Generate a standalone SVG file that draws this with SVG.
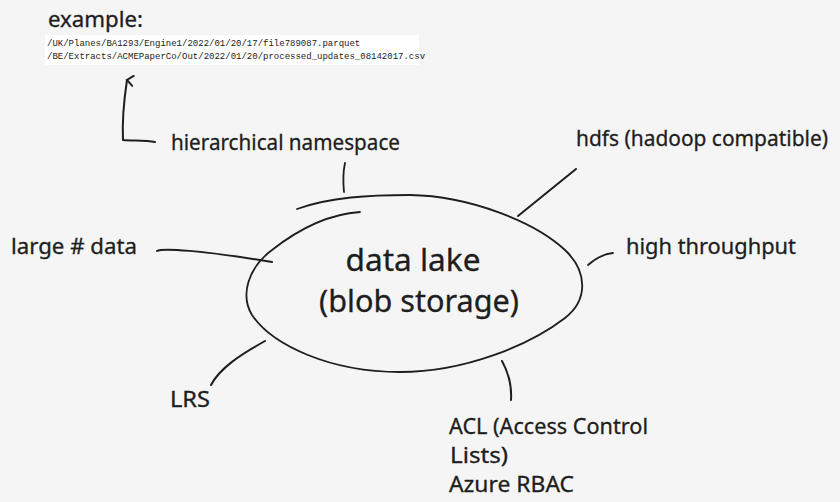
<svg xmlns="http://www.w3.org/2000/svg" width="840" height="502" viewBox="0 0 840 502">
<defs>
<style>
.bg{fill:#f5f5f5}
.t{font-family:"Noto Sans","Liberation Sans",sans-serif;font-size:21px;fill:#1e1e1e;stroke:#1e1e1e;stroke-width:0.3}
.big{font-size:30px}
.mono{font-family:"Liberation Mono","DejaVu Sans Mono",monospace;font-size:9px;fill:#222}
.ln{fill:none;stroke:#1e1e1e;stroke-width:2;stroke-linecap:round;stroke-linejoin:round}
.thin{stroke-width:1.8}
</style>
<marker id="ah" viewBox="0 0 12 12" refX="6" refY="2" markerWidth="12" markerHeight="12" markerUnits="userSpaceOnUse" orient="auto">
<path d="M1 8 L6 2 L11 8" fill="none" stroke="#1e1e1e" stroke-width="2" stroke-linecap="round"/>
</marker>
</defs>
<rect class="bg" x="0" y="0" width="840" height="502"/>

<g id="example">
<text class="t" x="48" y="27" font-size="24" textLength="95" lengthAdjust="spacingAndGlyphs">example:</text>
<rect x="45" y="35" width="374" height="30" fill="#ffffff"/>
<text class="mono" x="47" y="46">/UK/Planes/BA1293/Engine1/2022/01/20/17/file789087.parquet</text>
<text class="mono" x="47" y="59">/BE/Extracts/ACMEPaperCo/Out/2022/01/20/processed_updates_08142017.csv</text>
</g>

<g id="data-lake">
<path class="ln thin" d="M297 209 C330 197 370 195 410 195 C470 196 535 222 565 250 C588 272 588 300 565 318 C530 345 465 372 400 372 C330 372 272 345 252 315 C240 295 248 268 272 250 C300 228 330 214 360 212"/>
<text class="t big" x="413" y="271" text-anchor="middle" textLength="135" lengthAdjust="spacingAndGlyphs">data lake</text>
<text class="t big" x="419" y="312" text-anchor="middle" textLength="200" lengthAdjust="spacingAndGlyphs">(blob storage)</text>
</g>

<g id="hierarchical-namespace">
<text class="t" x="171" y="150" textLength="229" lengthAdjust="spacingAndGlyphs">hierarchical namespace</text>
</g>
<g id="hdfs">
<text class="t" x="576" y="146" textLength="252" lengthAdjust="spacingAndGlyphs">hdfs (hadoop compatible)</text>
</g>
<g id="high-throughput">
<text class="t" x="626" y="254" textLength="170" lengthAdjust="spacingAndGlyphs">high throughput</text>
</g>
<g id="large-data">
<text class="t" x="11" y="254" textLength="126" lengthAdjust="spacingAndGlyphs">large # data</text>
</g>
<g id="lrs">
<text class="t" x="170" y="407" textLength="40" lengthAdjust="spacingAndGlyphs">LRS</text>
</g>
<g id="acl">
<text class="t" x="449" y="434" textLength="199" lengthAdjust="spacingAndGlyphs">ACL (Access Control</text>
<text class="t" x="450" y="463" textLength="58" lengthAdjust="spacingAndGlyphs">Lists)</text>
<text class="t" x="449" y="492" textLength="125" lengthAdjust="spacingAndGlyphs">Azure RBAC</text>
</g>

<g id="connectors">
<path class="ln" d="M155 142 C145 140 132 141 123 140 C122 120 124 100 127 80" marker-end="url(#ah)"/>
<path class="ln thin" d="M345 163 C343 172 343 182 344 192"/>
<path class="ln" d="M518 216 C538 200 556 185 576 169"/>
<path class="ln thin" d="M588 265 C596 258 604 254 613 253"/>
<path class="ln" d="M157 251 C162 248 200 250 272 262"/>
<path class="ln" d="M265 341 C240 355 220 368 211 385"/>
<path class="ln" d="M502 361 C508 372 512 385 511 400"/>
</g>
</svg>
